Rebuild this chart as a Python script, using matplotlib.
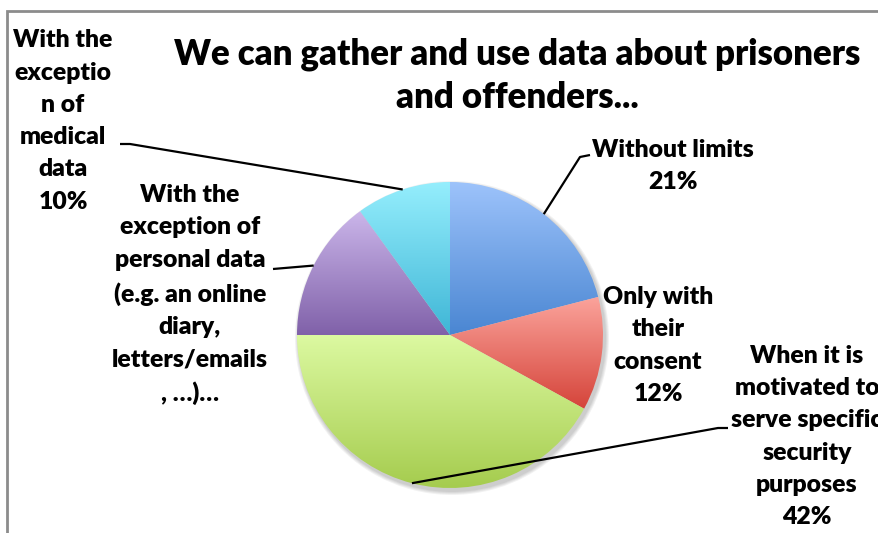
import numpy as np
import matplotlib
matplotlib.use("Agg")
import matplotlib.pyplot as plt
from matplotlib.colors import LinearSegmentedColormap
from matplotlib.patches import Circle

# ---- data ----
title = "We can gather and use data about prisoners\nand offenders..."
categories = [
    "Without limits",
    "Only with\ntheir\nconsent",
    "When it is\nmotivated to\nserve specific\nsecurity\npurposes",
    "With the\nexception of\npersonal data\n(e.g. an online\ndiary,\nletters/emails\n, …)…",
    "With the\nexceptio\nn of\nmedical\ndata",
]
values = [21, 12, 42, 15, 10]
pct_labels = ["21%", "12%", "42%", "", "10%"]
top_colors = ["#9dc3fb", "#fba39b", "#dcf9a1", "#cbb6ea", "#95eefd"]
bottom_colors = ["#4a86d2", "#d5443a", "#a5cc4e", "#8061a9", "#3fb6d6"]

W, H = 879, 533
fig = plt.figure(figsize=(W / 100, H / 100), dpi=100)
ax = fig.add_axes([0, 0, 1, 1])
ax.set_aspect("equal")
ax.axis("off")

FONT = "Lato"
WEIGHT = "heavy"

def Y(y):
    return H - y

cx, cy, R = 450, Y(335), 153

# shadow
for i in range(4):
    ax.add_patch(Circle((cx + 2, cy - 3), R + 1 + i, color="black", alpha=0.05, lw=0, zorder=0))

wedges, _ = ax.pie(values, center=(cx, cy), radius=R, startangle=90,
                   counterclock=False, wedgeprops=dict(linewidth=0, facecolor="none"),
                   frame=True)

grad = np.linspace(1, 0, 256).reshape(-1, 1)
for w, tc, bc in zip(wedges, top_colors, bottom_colors):
    w.set_edgecolor("none")
    bb = w.get_path().get_extents(w.get_patch_transform())
    cmap = LinearSegmentedColormap.from_list("g", [bc, tc])
    im = ax.imshow(grad, cmap=cmap, extent=[bb.x0, bb.x1, bb.y0, bb.y1],
                   origin="upper", aspect="auto", zorder=2)
    im.set_clip_path(w)
ax.set_xlim(0, W)
ax.set_ylim(0, H)
ax.axis("off")

# labels
label_pos = [(673, 166), (658, 345.5), (807, 436.5), (190, 294.5), (63, 121)]
label_ends = [(590, 155), None, (728, 428), (273, 269), (120, 144)]
label_elbows = [(580, 157), None, (718, 428), None, (130, 144)]
for i, (cat, pct) in enumerate(zip(categories, pct_labels)):
    txt = cat + ("\n" + pct if pct else "")
    x, y = label_pos[i]
    ax.text(x, Y(y), txt, ha="center", va="center", ma="center", fontsize=17.8,
            fontweight=WEIGHT, family=FONT, linespacing=1.57, zorder=5,
            clip_on=False)

# leader lines from wedge mid-angles
for i, w in enumerate(wedges):
    if label_ends[i] is None:
        continue
    mid = np.deg2rad((w.theta1 + w.theta2) / 2)
    sx, sy = cx + R * np.cos(mid), cy + R * np.sin(mid)
    pts = [(sx, sy)]
    if label_elbows[i] is not None:
        ex, ey = label_elbows[i]
        pts.append((ex, Y(ey)))
    ex, ey = label_ends[i]
    pts.append((ex, Y(ey)))
    xs, ys = zip(*pts)
    ax.plot(xs, ys, color="black", lw=1.6, zorder=4, solid_capstyle="butt")

ax.text(517, Y(76), title, ha="center", va="center", ma="center", fontsize=25,
        fontweight=WEIGHT, family=FONT, linespacing=1.38, zorder=5)

# frame
ax.plot([7, 7, W], [0, Y(11), Y(11)], color="#8c8c8c", lw=2, zorder=1,
        solid_joinstyle="miter", clip_on=False)

fig.savefig("out.png", dpi=100)
